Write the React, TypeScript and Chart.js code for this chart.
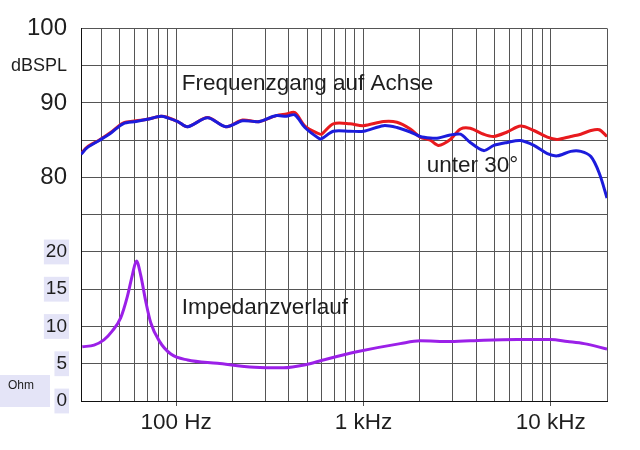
import React, { useEffect, useRef } from "react";
import { Chart, registerables } from "chart.js";

Chart.register(...registerables);

// Frequency points (Hz) for the two SPL curves
const splFreqs = [31, 33.5, 39, 45, 52, 61, 70, 83, 90, 102, 115, 147, 184, 226, 262, 279, 343, 388, 430, 487, 574, 598, 690, 848, 1000, 1280, 1510, 1780, 2010, 2275, 2520, 2910, 3300, 3720, 4390, 4970, 5860, 6900, 8140, 9600, 10860, 12800, 14490, 16400, 18170, 20000];
// SPL on axis (dB)
const splOnAxis = [83.2, 84.1, 85.05, 86.1, 87.3, 87.6, 87.8, 88.2, 88.05, 87.5, 86.8, 88.05, 86.8, 87.7, 87.5, 87.5, 88.3, 88.5, 88.7, 86.9, 85.9, 85.8, 87.2, 87.2, 86.95, 87.5, 87.4, 86.5, 85.4, 85.0, 84.3, 85.1, 86.5, 86.6, 85.8, 85.5, 86.1, 86.9, 86.3, 85.4, 85.1, 85.5, 85.8, 86.3, 86.4, 85.5];
// SPL at 30 degrees (dB)
const spl30 = [83.1, 84.0, 85.0, 86.0, 87.2, 87.5, 87.8, 88.2, 88.0, 87.5, 86.8, 88.0, 86.8, 87.6, 87.5, 87.5, 88.3, 88.2, 88.4, 86.7, 85.3, 85.2, 86.2, 86.2, 86.2, 86.95, 86.7, 86.1, 85.5, 85.3, 85.3, 85.7, 85.8, 84.7, 83.6, 84.3, 84.7, 84.96, 84.3, 83.2, 82.9, 83.5, 83.5, 82.8, 80.6, 77.25];

// Impedance curve
const impFreqs = [31.5, 36.4, 41.1, 45.6, 50.5, 54.8, 58.3, 61.3, 64.6, 68.7, 73.1, 81.1, 93.6, 115, 166, 262, 372, 497, 610, 921, 1572, 2010, 2912, 4394, 6634, 10000, 12290, 15080, 20000];
const impedance = [7.28, 7.5, 8.2, 9.4, 11.15, 14.0, 16.9, 18.8, 16.9, 13.4, 10.5, 8.07, 6.3, 5.5, 5.07, 4.54, 4.46, 4.9, 5.5, 6.6, 7.7, 8.07, 7.98, 8.16, 8.24, 8.24, 7.98, 7.7, 6.97];

// Axes
const freqMin = 31;
const freqMax = 20000;
const xGridFreqs = [40, 50, 60, 70, 80, 90, 100, 200, 300, 400, 500, 600, 700, 800, 900, 1000, 2000, 3000, 4000, 5000, 6000, 7000, 8000, 9000, 10000, 20000];
const xLabelValues = [100, 1000, 10000];
const xLabelTexts = ["100 Hz", "1 kHz", "10 kHz"];
const dbMin = 50;
const dbMax = 100;
const dbStep = 5;
const dbLabelValues = [100, 95, 90, 80];
const dbLabelTexts = ["100", "dBSPL", "90", "80"];
const ohmMin = 0;
const ohmMax = 50;
const ohmLabelValues = [20, 15, 10, 5, 0];
const ohmUnit = "Ohm";

const annotations = [
  { text: "Frequenzgang auf Achse", freq: 107, value: 92.5, axis: "y" },
  { text: "unter 30°", freq: 2180, value: 81.5, axis: "y" },
  { text: "Impedanzverlauf", freq: 107, value: 12.5, axis: "yOhm" },
];

const FONT = '"Liberation Sans", Arial, sans-serif';
const GRID = "#555555";
const TEXT = "#1e1e1e";
const BACKDROP = "#e4e4f7";

const labelsPlugin = {
  id: "freeLabels",
  afterDraw(chart: any) {
    const { ctx, scales } = chart;
    ctx.save();
    const y0 = scales.yOhm.getPixelForValue(0);
    ctx.fillStyle = BACKDROP;
    ctx.fillRect(0, y0 - 26, 50, 32);
    ctx.fillStyle = TEXT;
    ctx.font = `12px ${FONT}`;
    ctx.textBaseline = "middle";
    ctx.textAlign = "left";
    ctx.fillText(ohmUnit, 8, y0 - 15);
    ctx.font = `22.5px ${FONT}`;
    annotations.forEach((a) => {
      const px = scales.x.getPixelForValue(a.freq);
      const py = scales[a.axis].getPixelForValue(a.value);
      ctx.fillText(a.text, px, py);
    });
    ctx.restore();
  },
};

export default function App() {
  const ref = useRef<HTMLCanvasElement | null>(null);

  useEffect(() => {
    document.body.style.margin = "0";
    const canvas = ref.current;
    if (!canvas) return;
    const ohmOffset = dbMin - ohmMin;
    const chart = new Chart(canvas, {
      type: "line",
      data: {
        datasets: [
          {
            label: "unter 30°",
            data: splFreqs.map((f, i) => ({ x: f, y: spl30[i] })),
            borderColor: "#1c1cdc",
            borderWidth: 3,
            pointRadius: 0,
            tension: 0.3,
            yAxisID: "y",
          },
          {
            label: "Frequenzgang auf Achse",
            data: splFreqs.map((f, i) => ({ x: f, y: splOnAxis[i] })),
            borderColor: "#e81a1e",
            borderWidth: 3,
            pointRadius: 0,
            tension: 0.3,
            yAxisID: "y",
          },
          {
            label: "Impedanzverlauf",
            data: impFreqs.map((f, i) => ({ x: f, y: impedance[i] })),
            borderColor: "#9b20e8",
            borderWidth: 3,
            pointRadius: 0,
            cubicInterpolationMode: "monotone",
            yAxisID: "yOhm",
          },
        ],
      },
      options: {
        animation: false,
        responsive: false,
        events: [],
        layout: { padding: { top: 23, right: 33, left: 0, bottom: 0 } },
        plugins: { legend: { display: false }, tooltip: { enabled: false } },
        scales: {
          x: {
            type: "logarithmic",
            min: freqMin,
            max: freqMax,
            afterBuildTicks: (s: any) => {
              s.ticks = xGridFreqs.map((v) => ({ value: v }));
            },
            afterFit: (s: any) => {
              s.height = 49;
            },
            ticks: {
              autoSkip: false,
              maxRotation: 0,
              padding: 3,
              color: TEXT,
              font: { family: FONT, size: 22.5 },
              callback: (v: any) => {
                const i = xLabelValues.indexOf(Number(v));
                return i >= 0 ? xLabelTexts[i] : "";
              },
            },
            grid: {
              color: GRID,
              lineWidth: 1,
              tickLength: 5,
              tickColor: (c: any) =>
                c.tick && xLabelValues.includes(c.tick.value) ? GRID : "rgba(0,0,0,0)",
            },
            border: { color: "#111", width: 1 },
          },
          y: {
            position: "left",
            min: dbMin,
            max: dbMax,
            afterFit: (s: any) => {
              s.width = 81;
            },
            ticks: {
              stepSize: dbStep,
              autoSkip: false,
              padding: 14,
              color: TEXT,
              showLabelBackdrop: true,
              backdropPadding: { x: 2, y: 1 },
              backdropColor: (c: any) =>
                c.tick && c.tick.value - ohmOffset <= ohmLabelValues[0] ? BACKDROP : "rgba(0,0,0,0)",
              font: (c: any) => {
                const v = c.tick ? c.tick.value : 0;
                if (v === 95) return { family: FONT, size: 18 };
                if (v >= 80) return { family: FONT, size: 24 };
                return { family: FONT, size: 19 };
              },
              callback: (v: any) => {
                const n = Number(v);
                const i = dbLabelValues.indexOf(n);
                if (i >= 0) return dbLabelTexts[i];
                const o = n - ohmOffset;
                return ohmLabelValues.includes(o) ? String(o) : "";
              },
            },
            grid: { color: GRID, lineWidth: 1, drawTicks: false },
            border: { color: "#111", width: 1 },
          },
          yOhm: {
            display: false,
            min: ohmMin,
            max: ohmMax,
          },
        },
      },
      plugins: [labelsPlugin],
    } as any);
    return () => chart.destroy();
  }, []);

  return (
    <div style={{ width: 640, height: 450 }}>
      <canvas ref={ref} width={640} height={450} />
    </div>
  );
}
